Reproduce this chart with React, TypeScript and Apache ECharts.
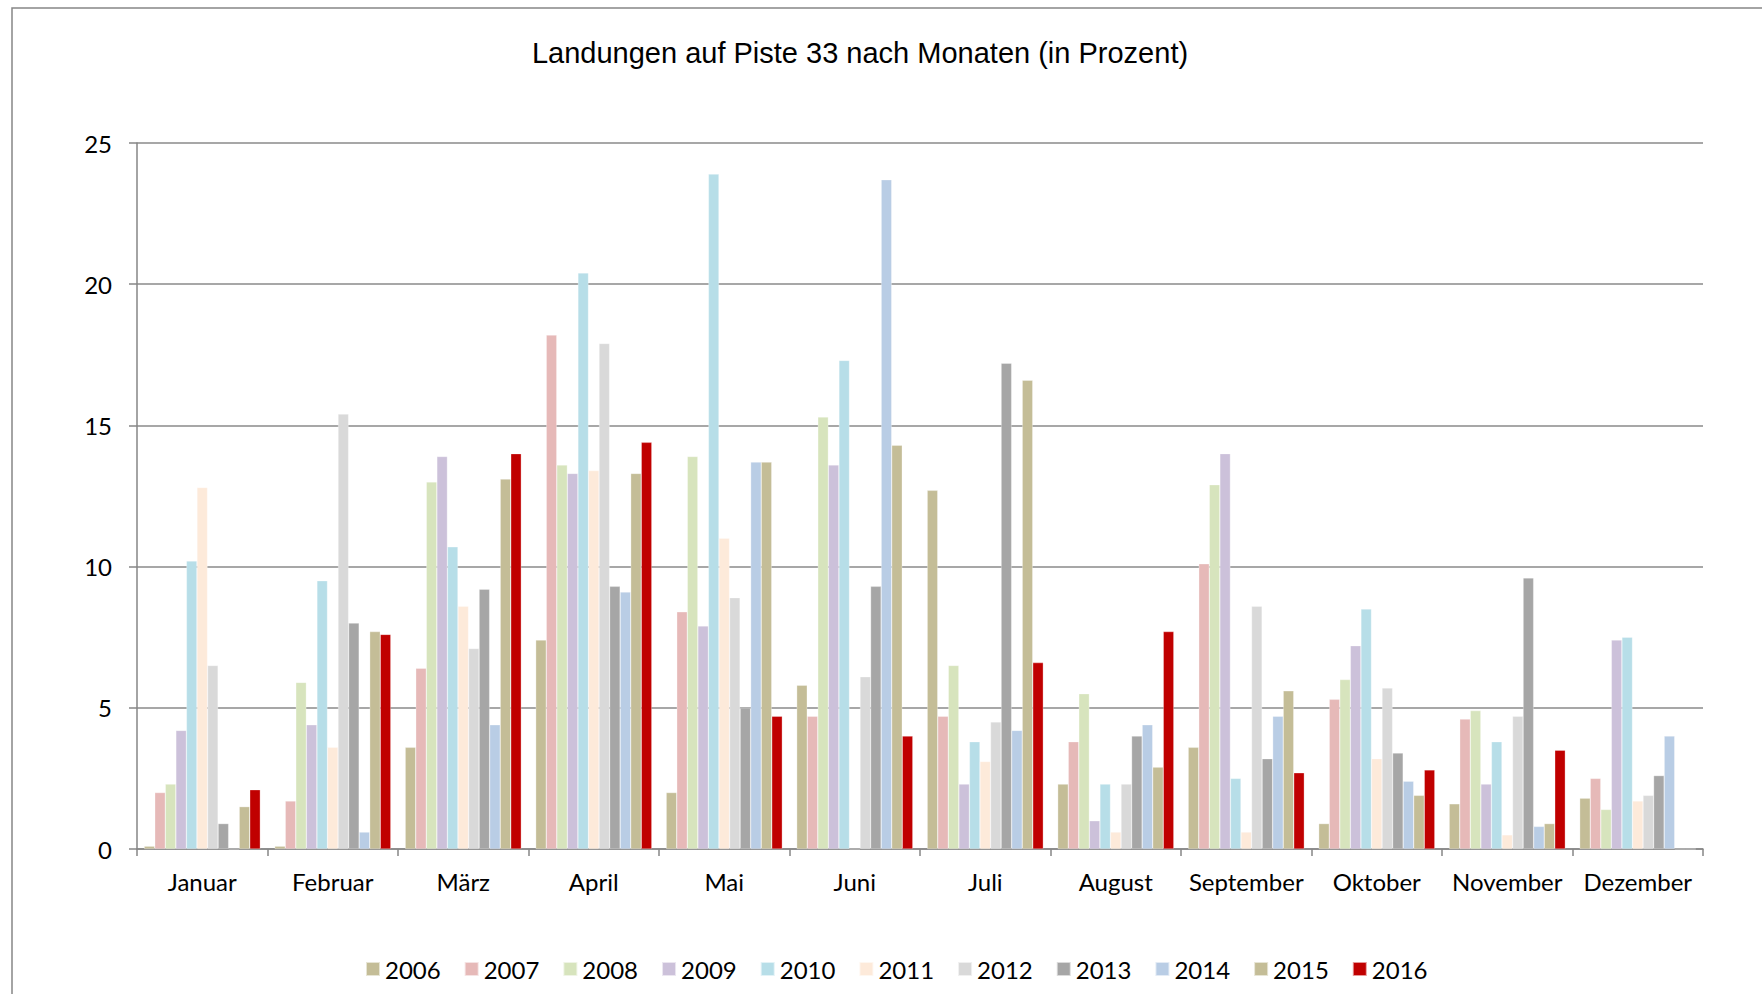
import React, { useEffect, useRef } from "react";
import * as echarts from "echarts";

const titleText = "Landungen auf Piste 33 nach Monaten (in Prozent)";
const months = ["Januar", "Februar", "März", "April", "Mai", "Juni", "Juli", "August", "September", "Oktober", "November", "Dezember"];
const years = ["2006", "2007", "2008", "2009", "2010", "2011", "2012", "2013", "2014", "2015", "2016"];
const yearColors = ["#C4BD97", "#E6B9B8", "#D7E4BD", "#CCC1DA", "#B7DEE8", "#FDEADA", "#D9D9D9", "#A6A6A6", "#B9CDE5", "#C4BD97", "#C00000"];

const v2006 = [0.1, 0.1, 3.6, 7.4, 2.0, 5.8, 12.7, 2.3, 3.6, 0.9, 1.6, 1.8];
const v2007 = [2.0, 1.7, 6.4, 18.2, 8.4, 4.7, 4.7, 3.8, 10.1, 5.3, 4.6, 2.5];
const v2008 = [2.3, 5.9, 13.0, 13.6, 13.9, 15.3, 6.5, 5.5, 12.9, 6.0, 4.9, 1.4];
const v2009 = [4.2, 4.4, 13.9, 13.3, 7.9, 13.6, 2.3, 1.0, 14.0, 7.2, 2.3, 7.4];
const v2010 = [10.2, 9.5, 10.7, 20.4, 23.9, 17.3, 3.8, 2.3, 2.5, 8.5, 3.8, 7.5];
const v2011 = [12.8, 3.6, 8.6, 13.4, 11.0, 0, 3.1, 0.6, 0.6, 3.2, 0.5, 1.7];
const v2012 = [6.5, 15.4, 7.1, 17.9, 8.9, 6.1, 4.5, 2.3, 8.6, 5.7, 4.7, 1.9];
const v2013 = [0.9, 8.0, 9.2, 9.3, 5.0, 9.3, 17.2, 4.0, 3.2, 3.4, 9.6, 2.6];
const v2014 = [0, 0.6, 4.4, 9.1, 13.7, 23.7, 4.2, 4.4, 4.7, 2.4, 0.8, 4.0];
const v2015 = [1.5, 7.7, 13.1, 13.3, 13.7, 14.3, 16.6, 2.9, 5.6, 1.9, 0.9, 0];
const v2016 = [2.1, 7.6, 14.0, 14.4, 4.7, 4.0, 6.6, 7.7, 2.7, 2.8, 3.5, 0];

const yearValues = [v2006, v2007, v2008, v2009, v2010, v2011, v2012, v2013, v2014, v2015, v2016];

const yMin = 0;
const yMax = 25;
const yInterval = 5;

const FONT = "Lato";
const AXIS_GRAY = "#868686";

export default function App() {
  const ref = useRef<HTMLDivElement>(null);

  useEffect(() => {
    if (!ref.current) return;
    const chart = echarts.init(ref.current, undefined, { renderer: "svg" });
    chart.setOption({
      animation: false,
      backgroundColor: "#ffffff",
      graphic: [
        {
          type: "rect",
          shape: { x: 12, y: 8, width: 1900, height: 1200 },
          style: { fill: "none", stroke: AXIS_GRAY, lineWidth: 1.5 },
          silent: true,
        },
        {
          type: "text",
          x: 860,
          y: 53,
          style: {
            text: titleText,
            font: "29px 'Liberation Sans', Arial, sans-serif",
            fill: "#000000",
            textAlign: "center",
            textVerticalAlign: "middle",
          },
        },
      ],
      legend: {
        data: years,
        left: 360,
        top: 952,
        icon: "rect",
        itemWidth: 14,
        itemHeight: 14,
        itemGap: 23,
        textStyle: { fontFamily: FONT, fontSize: 24, color: "#000000" },
      },
      grid: { left: 137, right: 59, top: 143, bottom: 145, containLabel: false },
      xAxis: {
        type: "category",
        data: months,
        boundaryGap: true,
        axisLine: { show: true, lineStyle: { color: AXIS_GRAY, width: 1.5 } },
        axisTick: { show: true, length: 7, lineStyle: { color: AXIS_GRAY, width: 1.5 } },
        axisLabel: { fontFamily: FONT, fontSize: 24, color: "#000000", margin: 20, interval: 0 },
        splitLine: { show: false },
      },
      yAxis: {
        type: "value",
        min: yMin,
        max: yMax,
        interval: yInterval,
        axisLine: { show: true, lineStyle: { color: AXIS_GRAY, width: 1.5 } },
        axisTick: { show: true, length: 8, lineStyle: { color: AXIS_GRAY, width: 1.5 } },
        axisLabel: { fontFamily: FONT, fontSize: 24, color: "#000000", margin: 25 },
        splitLine: { show: true, lineStyle: { color: "#8a8a8a", width: 1.5 } },
      },
      series: years.map((y, i) => ({
        name: y,
        type: "bar",
        data: yearValues[i],
        barGap: "0%",
        barCategoryGap: "11%",
        itemStyle: { color: yearColors[i], borderColor: "rgba(255,255,255,0.6)", borderWidth: 0.5 },
      })),
    });
    return () => chart.dispose();
  }, []);

  return (
    <div
      ref={ref}
      style={{ position: "fixed", left: 0, top: 0, width: 1762, height: 994, background: "#fff" }}
    />
  );
}
